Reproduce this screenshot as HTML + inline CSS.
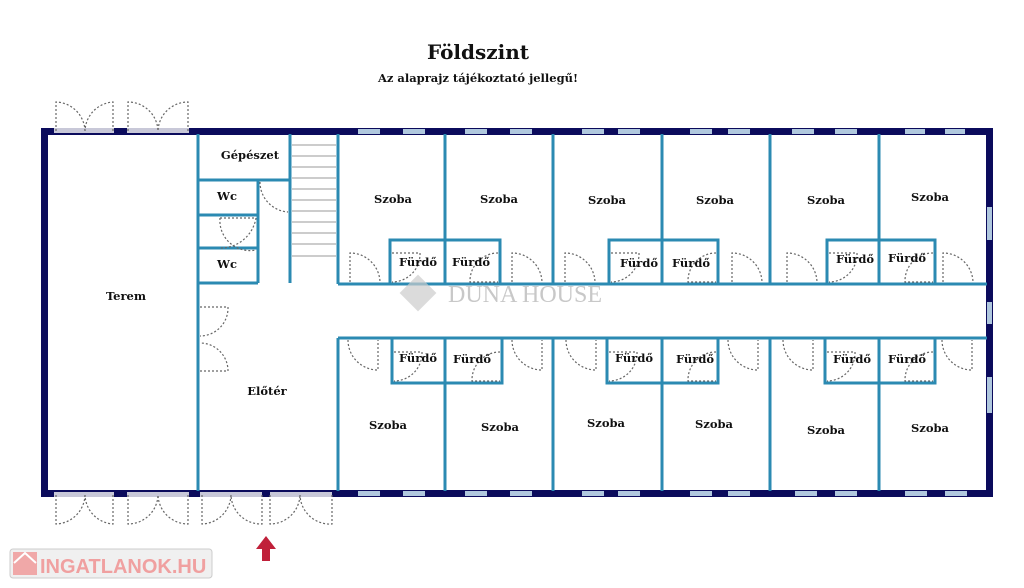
<!DOCTYPE html>
<html><head><meta charset="utf-8"><style>
html,body{margin:0;padding:0;background:#fff;}
svg{display:block;}
text{font-family:"DejaVu Serif","Liberation Serif",serif;font-weight:bold;fill:#111;}
</style></head><body>
<svg width="1024" height="588" viewBox="0 0 1024 588" xmlns="http://www.w3.org/2000/svg">
<text x="478" y="59" font-size="20" text-anchor="middle">Földszint</text>
<text x="478" y="82" font-size="11.5" text-anchor="middle">Az alaprajz tájékoztató jellegű!</text>

<g fill="#0b0b5c">
<rect x="41" y="128" width="952" height="7"/>
<rect x="41" y="490" width="952" height="7"/>
<rect x="41" y="128" width="7" height="369"/>
<rect x="986" y="128" width="7" height="369"/>
</g>
<g fill="#b0c8de">
<rect x="358" y="129" width="22" height="5"/><rect x="403" y="129" width="22" height="5"/>
<rect x="465" y="129" width="22" height="5"/><rect x="510" y="129" width="22" height="5"/>
<rect x="582" y="129" width="22" height="5"/><rect x="618" y="129" width="22" height="5"/>
<rect x="690" y="129" width="22" height="5"/><rect x="728" y="129" width="22" height="5"/>
<rect x="792" y="129" width="22" height="5"/><rect x="835" y="129" width="22" height="5"/>
<rect x="905" y="129" width="20" height="5"/><rect x="945" y="129" width="20" height="5"/>
<rect x="358" y="491" width="22" height="5"/><rect x="403" y="491" width="22" height="5"/>
<rect x="465" y="491" width="22" height="5"/><rect x="510" y="491" width="22" height="5"/>
<rect x="582" y="491" width="22" height="5"/><rect x="618" y="491" width="22" height="5"/>
<rect x="690" y="491" width="22" height="5"/><rect x="728" y="491" width="22" height="5"/>
<rect x="795" y="491" width="22" height="5"/><rect x="835" y="491" width="22" height="5"/>
<rect x="905" y="491" width="22" height="5"/><rect x="945" y="491" width="22" height="5"/>
<rect x="987" y="207" width="5" height="33"/>
<rect x="987" y="302" width="5" height="22"/>
<rect x="987" y="377" width="5" height="36"/>
</g>
<g fill="#c8c8d8"><rect x="54" y="128" width="60" height="5"/><rect x="127" y="128" width="62" height="5"/>
<rect x="54" y="492" width="60" height="5"/><rect x="127" y="492" width="62" height="5"/><rect x="200" y="492" width="62" height="5"/><rect x="270" y="492" width="62" height="5"/></g>

<g stroke="#2b8ab2" stroke-width="3" fill="none">
<line x1="198" y1="134" x2="198" y2="491"/>
<line x1="198" y1="180" x2="290" y2="180"/>
<line x1="198" y1="215" x2="258" y2="215"/>
<line x1="198" y1="248" x2="258" y2="248"/>
<line x1="198" y1="283" x2="258" y2="283"/>
<line x1="258" y1="180" x2="258" y2="283"/>
<line x1="290" y1="134" x2="290" y2="283"/>
<line x1="338" y1="134" x2="338" y2="284"/>
<line x1="338" y1="284" x2="987" y2="284"/>
<line x1="338" y1="338" x2="987" y2="338"/>
<line x1="338" y1="338" x2="338" y2="491"/>
<line x1="445" y1="134" x2="445" y2="284"/>
<line x1="553" y1="134" x2="553" y2="284"/>
<line x1="662" y1="134" x2="662" y2="284"/>
<line x1="770" y1="134" x2="770" y2="284"/>
<line x1="879" y1="134" x2="879" y2="284"/>
<line x1="445" y1="338" x2="445" y2="491"/>
<line x1="553" y1="338" x2="553" y2="491"/>
<line x1="662" y1="338" x2="662" y2="491"/>
<line x1="770" y1="338" x2="770" y2="491"/>
<line x1="879" y1="338" x2="879" y2="491"/>
<rect x="390" y="240" width="110" height="44"/>
<rect x="609" y="240" width="109" height="44"/>
<rect x="827" y="240" width="108" height="44"/>
<rect x="392" y="338" width="110" height="45"/>
<rect x="607" y="338" width="111" height="45"/>
<rect x="825" y="338" width="110" height="45"/>
</g>
<g stroke="#999" stroke-width="1">
<line x1="292" y1="145" x2="336" y2="145"/><line x1="292" y1="156" x2="336" y2="156"/>
<line x1="292" y1="167" x2="336" y2="167"/><line x1="292" y1="178" x2="336" y2="178"/>
<line x1="292" y1="189" x2="336" y2="189"/><line x1="292" y1="200" x2="336" y2="200"/>
<line x1="292" y1="211" x2="336" y2="211"/><line x1="292" y1="222" x2="336" y2="222"/>
<line x1="292" y1="233" x2="336" y2="233"/><line x1="292" y1="244" x2="336" y2="244"/>
<line x1="292" y1="256" x2="336" y2="256"/>
</g>
<g stroke="#666" stroke-width="1.2" stroke-dasharray="2,2" fill="none">
<path d="M56 131 V102 A30 30 0 0 1 85 131 M113 131 V102 A30 30 0 0 0 85 131"/>
<path d="M128 131 V102 A30 30 0 0 1 158 131 M188 131 V102 A30 30 0 0 0 158 131"/>
<path d="M56 495 V524 A30 30 0 0 0 85 495 M113 495 V524 A30 30 0 0 1 85 495"/>
<path d="M128 495 V524 A30 30 0 0 0 158 495 M188 495 V524 A30 30 0 0 1 158 495"/>
<path d="M202 495 V524 A30 30 0 0 0 231 495 M262 495 V524 A30 30 0 0 1 231 495"/>
<path d="M270 495 V524 A30 30 0 0 0 300 495 M332 495 V524 A30 30 0 0 1 300 495"/>
<path d="M260 182 A30 30 0 0 0 288 212"/>
<path d="M220 218 A30 30 0 0 0 256 250 M220 218 H256"/>
<path d="M256 218 A36 36 0 0 1 220 248"/>
<path d="M200 307 H228 A28 28 0 0 1 200 336 M200 371 H228 A28 28 0 0 0 200 343"/>
<path d="M350 282 V253 A30 30 0 0 1 380 282"/>
<path d="M512 282 V253 A30 30 0 0 1 542 282"/>
<path d="M565 282 V253 A30 30 0 0 1 595 282"/>
<path d="M732 282 V253 A30 30 0 0 1 762 282"/>
<path d="M787 282 V253 A30 30 0 0 1 817 282"/>
<path d="M943 282 V253 A30 30 0 0 1 973 282"/>
<path d="M348 340 A30 30 0 0 0 378 370 V340"/>
<path d="M512 340 A30 30 0 0 0 542 370 V340"/>
<path d="M566 340 A30 30 0 0 0 596 370 V340"/>
<path d="M728 340 A30 30 0 0 0 758 370 V340"/>
<path d="M783 340 A30 30 0 0 0 813 370 V340"/>
<path d="M942 340 A30 30 0 0 0 972 370 V340"/>
<path d="M392 253 H420 A28 28 0 0 1 392 282"/>
<path d="M498 253 A28 28 0 0 0 470 282 H498"/>
<path d="M611 253 H639 A28 28 0 0 1 611 282"/>
<path d="M716 253 A28 28 0 0 0 688 282 H716"/>
<path d="M829 253 H857 A28 28 0 0 1 829 282"/>
<path d="M933 253 A28 28 0 0 0 905 282 H933"/>
<path d="M394 352 H422 A28 28 0 0 1 394 381"/>
<path d="M500 352 A28 28 0 0 0 472 381 H500"/>
<path d="M609 352 H637 A28 28 0 0 1 609 381"/>
<path d="M716 352 A28 28 0 0 0 688 381 H716"/>
<path d="M827 352 H855 A28 28 0 0 1 827 381"/>
<path d="M933 352 A28 28 0 0 0 905 381 H933"/>
</g>
<g font-size="11.5">
<text x="250" y="159" text-anchor="middle">Gépészet</text>
<text x="227" y="200" text-anchor="middle">Wc</text>
<text x="227" y="268" text-anchor="middle">Wc</text>
<text x="126" y="300" text-anchor="middle">Terem</text>
<text x="267" y="395" text-anchor="middle">Előtér</text>
<text x="393" y="203" text-anchor="middle">Szoba</text>
<text x="499" y="203" text-anchor="middle">Szoba</text>
<text x="607" y="204" text-anchor="middle">Szoba</text>
<text x="715" y="204" text-anchor="middle">Szoba</text>
<text x="826" y="204" text-anchor="middle">Szoba</text>
<text x="930" y="201" text-anchor="middle">Szoba</text>
<text x="388" y="429" text-anchor="middle">Szoba</text>
<text x="500" y="431" text-anchor="middle">Szoba</text>
<text x="606" y="427" text-anchor="middle">Szoba</text>
<text x="714" y="428" text-anchor="middle">Szoba</text>
<text x="826" y="434" text-anchor="middle">Szoba</text>
<text x="930" y="432" text-anchor="middle">Szoba</text>
<text x="418" y="266" text-anchor="middle">Fürdő</text>
<text x="471" y="266" text-anchor="middle">Fürdő</text>
<text x="639" y="267" text-anchor="middle">Fürdő</text>
<text x="691" y="267" text-anchor="middle">Fürdő</text>
<text x="855" y="263" text-anchor="middle">Fürdő</text>
<text x="907" y="262" text-anchor="middle">Fürdő</text>
<text x="418" y="362" text-anchor="middle">Fürdő</text>
<text x="472" y="363" text-anchor="middle">Fürdő</text>
<text x="634" y="362" text-anchor="middle">Fürdő</text>
<text x="695" y="363" text-anchor="middle">Fürdő</text>
<text x="852" y="363" text-anchor="middle">Fürdő</text>
<text x="907" y="363" text-anchor="middle">Fürdő</text>
</g>
<rect x="405" y="280" width="26" height="26" fill="#ccc" opacity="0.7" transform="rotate(45 418 293)"/>
<text x="448" y="302" font-size="24" style="fill:#c8c8c8;font-weight:normal;font-family:'Liberation Serif',serif">DUNA HOUSE</text>
<path d="M266 536 L276 549 L270 549 L270 561 L262 561 L262 549 L256 549 Z" fill="#c0203a"/>
<rect x="10" y="549" width="202" height="29" rx="3" fill="#f0f0f0" stroke="#ccc"/>
<rect x="13" y="552" width="24" height="23" fill="#f0a8a8"/>
<path d="M14 563 L25 553 L36 563" stroke="#fff" stroke-width="2" fill="none"/>
<text x="40" y="573" font-size="20" style="fill:#f0a0a0;font-family:'Liberation Sans',sans-serif;font-weight:bold">INGATLANOK.HU</text>
</svg>
</body></html>
